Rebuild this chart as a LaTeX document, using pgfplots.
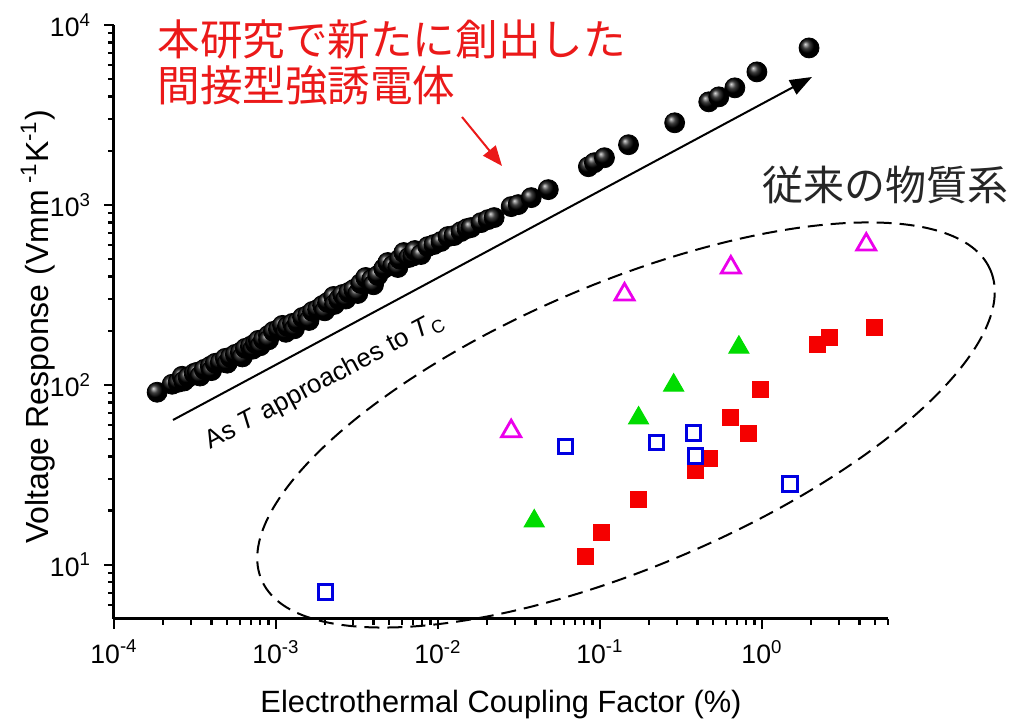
\documentclass[border=0pt]{standalone}
\usepackage{fontspec}
\setmainfont{Liberation Sans}
\newfontfamily\cjk{Noto Sans CJK JP}
\usepackage{pgfplots}
\usepackage{pgfplotstable}
\pgfplotsset{compat=1.18}
\usetikzlibrary{arrows.meta}

\definecolor{mred}{RGB}{245,0,0}
\definecolor{mgreen}{RGB}{0,220,0}
\definecolor{mblue}{RGB}{0,0,225}
\definecolor{mmag}{RGB}{235,0,235}
\definecolor{jred}{RGB}{235,25,25}

\pgfplotstableread{
x y
1.846e-4 91.0
2.286e-4 100.8
2.490e-4 103.4
2.637e-4 111.6
2.700e-4 105.0
2.872e-4 110.2
3.129e-4 115.9
3.266e-4 117.5
3.400e-4 112.0
3.609e-4 122.0
3.932e-4 126.8
4.000e-4 120.0
4.221e-4 131.8
4.532e-4 133.4
4.867e-4 140.4
5.000e-4 132.0
5.228e-4 142.2
5.614e-4 147.8
6.029e-4 151.6
6.200e-4 143.0
6.473e-4 159.6
6.953e-4 163.7
7.200e-4 158.0
7.466e-4 170.1
7.791e-4 176.8
8.000e-4 165.0
8.367e-4 179.0
8.986e-4 188.4
9.000e-4 178.0
9.650e-4 198.3
1.036e-3 203.4
1.097e-3 214.1
1.150e-3 196.0
1.178e-3 211.3
1.265e-3 219.6
1.300e-3 205.0
1.358e-3 222.4
1.459e-3 237.1
1.567e-3 243.2
1.600e-3 228.0
1.683e-3 256.0
1.807e-3 262.6
1.941e-3 276.4
2.000e-3 258.0
2.084e-3 287.2
2.270e-3 310.0
2.300e-3 280.0
2.438e-3 298.4
2.581e-3 318.0
2.700e-3 300.0
2.811e-3 326.3
3.020e-3 339.0
3.200e-3 322.0
3.336e-3 366.0
3.582e-3 395.3
3.903e-3 385.3
4.000e-3 360.0
4.251e-3 405.5
4.630e-3 443.3
4.902e-3 478.6
5.265e-3 460.6
5.654e-3 449.0
5.800e-3 500.0
6.159e-3 543.8
6.614e-3 510.3
7.000e-3 520.0
7.205e-3 557.9
7.850e-3 530.1
8.671e-3 587.1
9.445e-3 602.3
1.044e-2 626.0
1.153e-2 667.2
1.256e-2 675.7
1.388e-2 711.2
1.512e-2 739.0
1.601e-2 748.4
1.846e-2 797.6
2.040e-2 828.9
2.222e-2 850.4
2.831e-2 978.6
3.129e-2 1004
3.766e-2 1098
4.798e-2 1216
8.486e-2 1631
9.245e-2 1717
0.1066 1829
0.1501 2160
0.2892 2861
0.4696 3740
0.5417 3987
0.6806 4473
0.9311 5487
1.954 7456
}\balls

\pgfplotstableread{
x y
0.02831 55.3
0.1418 318
0.6427 449
4.405 602
}\magtri

\pgfplotstableread{
x y
0.03930 17.5
0.1732 65.3
0.2851 99.5
0.7206 161.6
}\greentri

\pgfplotstableread{
x y
2.025e-3 7.07
0.06115 45.6
0.2238 48.0
0.3793 53.9
0.3903 40.2
1.491 28.1
}\bluesq

\pgfplotstableread{
x y
0.08131 11.06
0.1022 15.03
0.1732 23.2
0.3903 33.6
0.4764 39.2
0.6427 66.1
0.8308 53.9
0.9858 94.5
2.191 168.0
2.599 183.7
4.937 208.7
}\redsq

\begin{document}
\begin{tikzpicture}
\path[use as bounding box] (0,0) rectangle (507pt,363.5pt);
\begin{axis}[
  at={(57pt,54pt)}, anchor=south west,
  scale only axis, width=387pt, height=297pt,
  xmode=log, ymode=log,
  xmin=1e-4, xmax=6, ymin=5, ymax=1e4,
  axis lines*=left,
  axis line style={line width=1.5pt},
  tick align=outside,
  major tick length=5pt, minor tick length=3pt,
  every tick/.style={black, line width=1.2pt},
  xtick={1e-4,1e-3,1e-2,1e-1,1},
  xticklabels={10\textsuperscript{-4},10\textsuperscript{-3},10\textsuperscript{-2},10\textsuperscript{-1},10\textsuperscript{0}},
  minor xtick={2e-4,3e-4,4e-4,5e-4,6e-4,7e-4,8e-4,9e-4,2e-3,3e-3,4e-3,5e-3,6e-3,7e-3,8e-3,9e-3,2e-2,3e-2,4e-2,5e-2,6e-2,7e-2,8e-2,9e-2,0.2,0.3,0.4,0.5,0.6,0.7,0.8,0.9,2,3,4,5,6},
  ytick={10,100,1000,10000},
  yticklabels={10\textsuperscript{1},10\textsuperscript{2},10\textsuperscript{3},10\textsuperscript{4}},
  minor ytick={6,7,8,9,20,30,40,50,60,70,80,90,200,300,400,500,600,700,800,900,2000,3000,4000,5000,6000,7000,8000,9000},
  ticklabel style={font=\fontsize{13.3}{15}\selectfont},
  yticklabel style={xshift=-3pt},
  xticklabel style={yshift=-2pt},
  xlabel={Electrothermal Coupling Factor (\%)},
  ylabel={Voltage Response (Vmm\textsuperscript{ -1}K\textsuperscript{-1})},
  xlabel style={font=\fontsize{15.4}{17}\selectfont, at={(axis description cs:0.5,-0.1448)}, anchor=center},
  ylabel style={font=\fontsize{16}{18}\selectfont, at={(axis description cs:-0.0982,0.4916)}, anchor=center},
  clip=false,
]
\addplot[only marks, mark=ball, mark size=5pt, mark options={ball color=black}] table[x=x,y=y] {\balls};
\addplot[only marks, mark=square*, mark size=4pt, mark options={draw=mred, fill=mred, line width=0.5pt}] table[x=x,y=y] {\redsq};
\addplot[only marks, mark=square, mark size=3.6pt, mark options={draw=mblue, line width=1.5pt}] table[x=x,y=y] {\bluesq};
\addplot[only marks, mark=triangle*, mark size=5.8pt, mark options={draw=mgreen, fill=mgreen, line width=0.5pt}] table[x=x,y=y] {\greentri};
\addplot[only marks, mark=triangle, mark size=5.5pt, mark options={draw=mmag, line width=1.4pt}] table[x=x,y=y] {\magtri};
\end{axis}
% annotations (1px = 0.5pt, y measured from bottom)
\draw[line width=1pt, -{Triangle[length=11pt,width=8pt]}] (86.5pt,153.5pt) -- (406pt,325pt);
\node[rotate=28, font=\fontsize{13}{15}\selectfont, inner sep=0pt] at (162.5pt,173pt) {As \textit{T} approaches to \textit{T}\textsubscript{C}};
\draw[jred, line width=1pt, -{Triangle[length=10pt,width=8pt]}] (231pt,305pt) -- (251pt,280.5pt);
\node[anchor=west, inner sep=0pt, text=jred, font=\cjk\fontsize{21.3}{24}\selectfont] at (78.5pt,344pt) {本研究で新たに創出した};
\node[anchor=west, inner sep=0pt, text=jred, font=\cjk\fontsize{21.3}{24}\selectfont] at (78.5pt,321pt) {間接型強誘電体};
\node[inner sep=0pt, text=black!85, font=\cjk\fontsize{20.5}{24}\selectfont] at (442.5pt,271pt) {従来の物質系};
\draw[dash pattern=on 7.5pt off 4pt, line width=1pt, rotate around={23:(313pt,151pt)}] (313pt,151pt) ellipse [x radius=198pt, y radius=71pt];
\end{tikzpicture}
\end{document}
